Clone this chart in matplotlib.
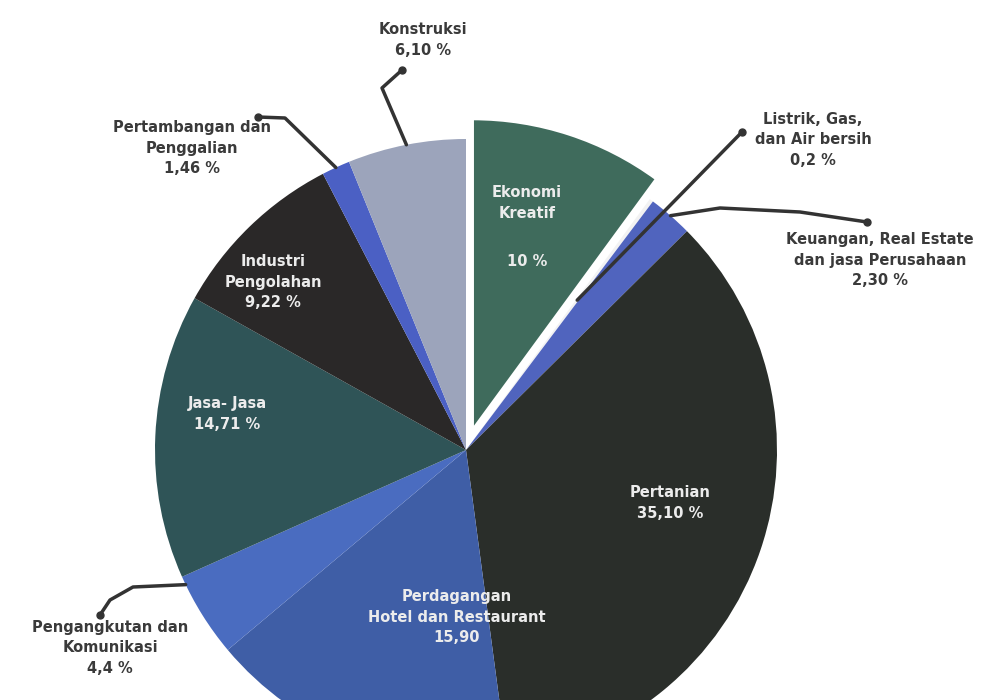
import numpy as np
import matplotlib
matplotlib.use("Agg")
import matplotlib.pyplot as plt

# slice data, clockwise from 12 o'clock
sectors = ["Ekonomi Kreatif", "Listrik, Gas, dan Air bersih",
           "Keuangan, Real Estate dan jasa Perusahaan", "Pertanian",
           "Perdagangan Hotel dan Restaurant", "Pengangkutan dan Komunikasi",
           "Jasa- Jasa", "Industri Pengolahan", "Pertambangan dan Penggalian",
           "Konstruksi"]
shares = [10.0, 0.2, 2.30, 35.10, 15.90, 4.4, 14.71, 9.22, 1.46, 6.10]
share_text = ["10 %", "0,2 %", "2,30 %", "35,10 %", "15,90", "4,4 %",
              "14,71 %", "9,22 %", "1,46 %", "6,10 %"]
colors = ["#3f6b5c", "#f2f2f2", "#5064be", "#2a2e2a", "#3f5ea6",
          "#4a6cc0", "#2f5457", "#2a2828", "#4b60c4", "#9ca4bb"]

W, H = 1005, 700
R = 311
# pie offsets are in data units here (the pie is drawn in pixel units)
explode = [0.068 * R, 0, 0, 0, 0, 0, 0, 0, 0, 0]

fig = plt.figure(figsize=(W / 100, H / 100), dpi=100)
ax = fig.add_axes([0, 0, 1, 1])

def py(y):
    # image pixel row -> data y
    return H - y

wedges, _ = ax.pie(shares, colors=colors, explode=explode, startangle=90,
                   counterclock=False, center=(466, py(450)), radius=R,
                   wedgeprops=dict(linewidth=0))
wedges[0].set_edgecolor("white")
wedges[0].set_linewidth(2)

ax.set_xlim(0, W)
ax.set_ylim(0, H)
ax.set_aspect("equal")
ax.axis("off")

def edge_point(i, frac=1.0, t=0.5):
    # point inside wedge i: t goes across the wedge angle, frac along the radius
    w = wedges[i]
    a = np.deg2rad(w.theta1 + t * (w.theta2 - w.theta1))
    cx, cy = w.center
    return cx + frac * w.r * np.cos(a), cy + frac * w.r * np.sin(a)

inside = dict(color="#ececec", fontsize=10.5, fontweight="bold",
              ha="center", va="center", linespacing=1.45, family="DejaVu Sans")
outside = dict(color="#3a3a3a", fontsize=10.5, fontweight="bold",
               ha="center", va="center", linespacing=1.45, family="DejaVu Sans")

# labels inside the slices
ax.text(527, py(203), "Ekonomi\nKreatif", **inside)
ax.text(527, py(262), share_text[0], **inside)
ax.text(670, py(503), "Pertanian\n" + share_text[3], **inside)
ax.text(457, py(617), "Perdagangan\nHotel dan Restaurant\n" + share_text[4], **inside)
ax.text(227, py(414), "Jasa- Jasa\n" + share_text[6], **inside)
ax.text(273, py(282), "Industri\nPengolahan\n" + share_text[7], **inside)

# labels outside with leader lines
ax.text(423, py(40), "Konstruksi\n" + share_text[9], **outside)
ax.text(192, py(148), "Pertambangan dan\nPenggalian\n" + share_text[8], **outside)
ax.text(813, py(140), "Listrik, Gas,\ndan Air bersih\n" + share_text[1], **outside)
ax.text(880, py(260), "Keuangan, Real Estate\ndan jasa Perusahaan\n" + share_text[2], **outside)
ax.text(110, py(648), "Pengangkutan dan\nKomunikasi\n" + share_text[5], **outside)

leaders = [
    (9, 1.0, 0.5, [(382, 88), (402, 70)]),
    (8, 1.0, 0.5, [(285, 118), (258, 117)]),
    (1, 0.6, 0.5, [(742, 132)]),
    (2, 1.0, 0.5, [(720, 208), (800, 212), (867, 222)]),
    (5, 1.0, 0.1, [(133, 587), (110, 600), (100, 615)]),
]
for i, frac, t, pts in leaders:
    x0, y0 = edge_point(i, frac, t)
    xs = [x0] + [p[0] for p in pts]
    ys = [y0] + [py(p[1]) for p in pts]
    ax.plot(xs, ys, color="#333333", lw=2.5, solid_capstyle="round")
    ax.plot(xs[-1], ys[-1], "o", color="#333333", ms=5)

fig.savefig("out.png", dpi=100)
